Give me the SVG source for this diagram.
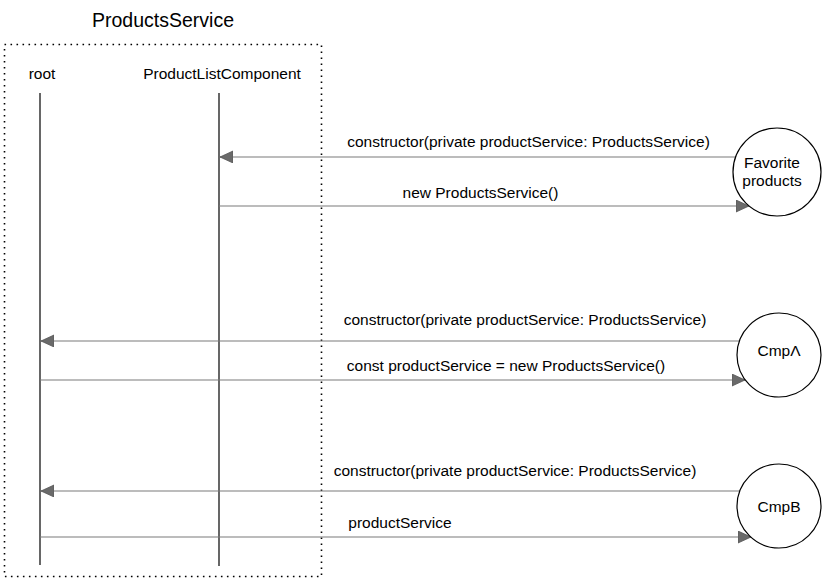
<svg xmlns="http://www.w3.org/2000/svg" width="825" height="588" viewBox="0 0 825 588">
<defs>
<style>
text{font-family:"Liberation Sans",Arial,sans-serif;fill:#000}
.lbl{font-size:15.5px;text-anchor:middle}
.title{font-size:19.5px;text-anchor:middle}
.life{stroke:#000;stroke-width:1.2;fill:none}
.msg{stroke:#7a7a7a;stroke-width:1.2;fill:none;marker-end:url(#arr)}
.node{fill:#fff;stroke:#000;stroke-width:1.2}
.box{fill:none;stroke:#000;stroke-width:1.6;stroke-dasharray:1.6 4.4}
</style>
<marker id="arr" markerUnits="userSpaceOnUse" markerWidth="16" markerHeight="14" refX="13" refY="6" orient="auto">
<path d="M0,0 L13,6 L0,12 z" fill="#6a6a6a" stroke="#555" stroke-width="0.8"/>
</marker>
</defs>
<rect width="825" height="588" fill="#fff"/>
<g id="products-service">
<rect class="box" x="4.5" y="44.5" width="317" height="532"/>
<text class="title" x="163" y="27">ProductsService</text>
</g>
<g id="root">
<text class="lbl" x="42" y="79">root</text>
<line class="life" x1="40" y1="93" x2="40" y2="565"/>
</g>
<g id="product-list-component">
<text class="lbl" x="222" y="79">ProductListComponent</text>
<line class="life" x1="219" y1="93" x2="219" y2="566"/>
</g>
<g id="connectors">
<line class="msg" x1="736" y1="157" x2="220" y2="157"/>
<text class="lbl" x="528.5" y="147">constructor(private productService: ProductsService)</text>
<line class="msg" x1="219" y1="206" x2="749" y2="206"/>
<text class="lbl" x="480.5" y="198">new ProductsService()</text>
<line class="msg" x1="739" y1="341" x2="41" y2="341"/>
<text class="lbl" x="525" y="325">constructor(private productService: ProductsService)</text>
<line class="msg" x1="40" y1="380" x2="745" y2="380"/>
<text class="lbl" x="506" y="371">const productService = new ProductsService()</text>
<line class="msg" x1="740" y1="491" x2="41" y2="491"/>
<text class="lbl" x="515" y="476">constructor(private productService: ProductsService)</text>
<line class="msg" x1="40" y1="537" x2="751" y2="537"/>
<text class="lbl" x="400" y="528">productService</text>
</g>
<g id="favorite-products">
<circle class="node" cx="777" cy="172" r="44"/>
<text class="lbl" x="772" y="168">Favorite</text>
<text class="lbl" x="772" y="186">products</text>
</g>
<g id="cmpa">
<circle class="node" cx="779" cy="355" r="42"/>
<text class="lbl" x="779" y="356">CmpΛ</text>
</g>
<g id="cmpb">
<circle class="node" cx="779" cy="506" r="42"/>
<text class="lbl" x="779" y="512">CmpB</text>
</g>
</svg>
